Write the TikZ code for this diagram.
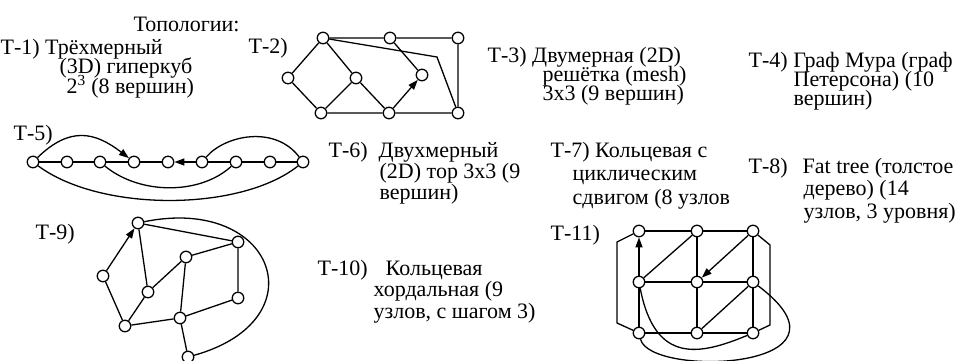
\documentclass[tikz,border=0pt]{standalone}
\usepackage{fontspec}
\setmainfont{Liberation Serif}
\usetikzlibrary{arrows.meta}
\newcommand\lblfont[1]{\fontsize{22}{#1}\selectfont\lineskiplimit=-50pt\relax}

\begin{document}
\begin{tikzpicture}[x=1pt, y=-1pt, line width=1.3pt,
    vtx/.style={circle, draw, fill=white, minimum size=11.5pt, inner sep=0pt},
    lbl/.style={anchor=base west, inner sep=0pt, align=left, font={\lblfont{#1}}},
    lbl/.default=19.5,
    arr/.style={-{Triangle[length=10pt, width=7pt]}}]
\useasboundingbox (0,0) rectangle (962,361);

% Captions (placed at the baseline of their last line)
\node[lbl] (title) at (133,32) {Топологии:};
\node[lbl] (t1) at (0,93) {Т-1) Трёхмерный\\\hspace*{59pt}(3D) гиперкуб\\\hspace*{66pt}2\textsuperscript{3} (8 вершин)};
\node[lbl] (t2) at (248,54) {Т-2)};
\node[lbl] (t3) at (487,101) {Т-3) Двумерная (2D)\\\hspace*{55pt}решётка (mesh)\\\hspace*{55pt}3x3 (9 вершин)};
\node[lbl] (t4) at (748,106) {Т-4) Граф Мура (граф\\\hspace*{45pt}Петерсона) (10\\\hspace*{45pt}вершин)};
\node[lbl] (t5) at (13,140) {Т-5)};
\node[lbl=21] (t6) at (328,199) {Т-6)\ \ Двухмерный\\\hspace*{51pt}(2D) тор 3x3 (9\\\hspace*{51pt}вершин)};
\node[lbl=23.5] (t7) at (550,204) {Т-7) Кольцевая с\\\hspace*{22pt}циклическим\\\hspace*{22pt}сдвигом (8 узлов};
\node[lbl=22.5] (t8) at (748,218) {Т-8)\hspace{15pt}Fat tree (толстое\\\hspace*{55pt}дерево) (14\\\hspace*{55pt}узлов, 3 уровня)};
\node[lbl] (t9) at (35,239) {Т-9)};
\node[lbl=21.5] (t10) at (317,318) {Т-10)\hspace{18pt}Кольцевая\\\hspace*{56pt}хордальная (9\\\hspace*{56pt}узлов, с шагом 3)};
\node[lbl] (t11) at (550,240) {Т-11)};

% T-2
\node[vtx] (q1) at (323,38) {};
\node[vtx] (q2) at (390,38) {};
\node[vtx] (q3) at (458,38) {};
\node[vtx] (q4) at (288,78) {};
\node[vtx] (q5) at (356,78) {};
\node[vtx] (q6) at (422,75) {};
\node[vtx] (q7) at (321,113) {};
\node[vtx] (q8) at (389,113) {};
\node[vtx] (q9) at (458,113) {};
\coordinate (qbend) at (437,57);
\draw (q1) -- (q2) -- (q3) -- (q9) -- (q8) -- (q7) -- (q4) -- (q1);
\draw (q1) -- (q5) -- (q7);
\draw (q5) -- (q8);
\draw (q2) -- (q6);
\draw[arr] (q8) -- (q6);
\draw (q1) -- (qbend) -- (q9);

% T-5
\foreach \i/\x in {1/33, 2/67, 3/100, 4/134, 5/168, 6/202, 7/236, 8/270, 9/303}
    \node[vtx] (p\i) at (\x,162) {};
\draw (p1) -- (p2) -- (p3) -- (p4) -- (p5);
\draw[arr] (p6) -- (p5);
\draw (p6) -- (p7) -- (p8) -- (p9);
\draw[arr] (p1) .. controls (70,126) and (95,132) .. (p4);
\draw (p6) .. controls (225,135) and (275,125) .. (p9);
\draw (p1) .. controls (100,212) and (240,212) .. (p9);
\draw (p3) .. controls (140,195) and (200,195) .. (p7);

% T-9
\node[vtx] (r1) at (138,223) {};
\node[vtx] (r2) at (103,276) {};
\node[vtx] (r3) at (148,292) {};
\node[vtx] (r4) at (186,257) {};
\node[vtx] (r5) at (238,242) {};
\node[vtx] (r6) at (238,298) {};
\node[vtx] (r7) at (180,318) {};
\node[vtx] (r8) at (125,326) {};
\node[vtx] (r9) at (188,357) {};
\draw[arr] (r2) -- (r1);
\draw (r1) -- (r3) -- (r4) -- (r5) -- (r1);
\draw (r5) -- (r6) -- (r7) -- (r8) -- (r2);
\draw (r3) -- (r8);
\draw (r4) -- (r7) -- (r9);
\draw (r1) .. controls (275,195) and (320,320) .. (r9);

% T-11
\foreach \r/\y in {1/231, 2/282, 3/333}
    \foreach \c/\x in {1/639, 2/697, 3/753}
        \node[vtx] (s\r\c) at (\x,\y) {};
\coordinate (w1) at (617,242);
\coordinate (w2) at (617,323);
\coordinate (w3) at (770,245);
\coordinate (w4) at (770,325);
\draw (s11) -- (s12) -- (s13);
\draw (s21) -- (s22) -- (s23);
\draw (s31) -- (s32) -- (s33);
\draw[arr] (s21) -- (s11);
\draw (s21) -- (s31);
\draw (s12) -- (s22) -- (s32);
\draw (s13) -- (s23) -- (s33);
\draw (s21) -- (s12);
\draw[arr] (s13) -- (s22);
\draw (s32) -- (s23);
\draw (s11) -- (w1) -- (w2) -- (s31);
\draw (s13) -- (w3) -- (w4) -- (s33);
\draw (s21) .. controls (655,365) and (700,355) .. (s33);
\draw (s23) .. controls (870,370) and (650,378) .. (s31);
\end{tikzpicture}
\end{document}
